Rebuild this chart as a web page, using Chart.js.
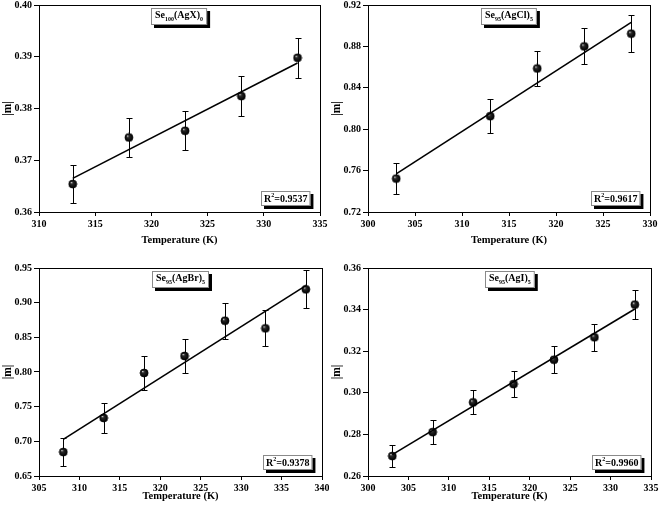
<!DOCTYPE html>
<html>
<head>
<meta charset="utf-8">
<script src="https://cdn.jsdelivr.net/npm/chart.js@4.4.1/dist/chart.umd.min.js"></script>
<style>
  html, body { margin: 0; padding: 0; background: #fff; }
  #wrap { position: relative; width: 659px; height: 512px; }
  canvas { position: absolute; }
</style>
</head>
<body>
<div id="wrap">
  <canvas id="c1" width="329" height="256" style="left:0;top:0"></canvas>
  <canvas id="c2" width="330" height="256" style="left:329px;top:0"></canvas>
  <canvas id="c3" width="329" height="256" style="left:0;top:256px"></canvas>
  <canvas id="c4" width="330" height="256" style="left:329px;top:256px"></canvas>
</div>
<script>
// --- data ---
// Se100(AgX)0
const tempAgX = [313, 318, 323, 328, 333];
const mAgX = [0.3654, 0.3744, 0.3757, 0.3824, 0.3898];
const errAgX = [0.0037, 0.0037, 0.0038, 0.0038, 0.0039];
const fitAgX = [0.3665, 0.3888];
const xTicksAgX = [310, 315, 320, 325, 330, 335];
const yTicksAgX = [0.36, 0.37, 0.38, 0.39, 0.40];

// Se95(AgCl)5
const tempAgCl = [303, 313, 318, 323, 328];
const mAgCl = [0.7523, 0.8126, 0.8587, 0.8800, 0.8923];
const errAgCl = [0.0152, 0.0163, 0.0173, 0.0173, 0.0179];
const fitAgCl = [0.7568, 0.9032];
const xTicksAgCl = [300, 305, 310, 315, 320, 325, 330];
const yTicksAgCl = [0.72, 0.76, 0.80, 0.84, 0.88, 0.92];

// Se95(AgBr)5
const tempAgBr = [308, 313, 318, 323, 328, 333, 338];
const mAgBr = [0.6846, 0.7337, 0.7986, 0.8231, 0.8740, 0.8630, 0.9192];
const errAgBr = [0.0205, 0.0222, 0.0240, 0.0250, 0.0260, 0.0258, 0.0274];
const fitAgBr = [0.7029, 0.9245];
const xTicksAgBr = [305, 310, 315, 320, 325, 330, 335, 340];
const yTicksAgBr = [0.65, 0.70, 0.75, 0.80, 0.85, 0.90, 0.95];

// Se95(AgI)5
const tempAgI = [303, 308, 313, 318, 323, 328, 333];
const mAgI = [0.2696, 0.2811, 0.2954, 0.3042, 0.3159, 0.3267, 0.3424];
const errAgI = [0.0054, 0.0057, 0.0058, 0.0061, 0.0064, 0.0066, 0.0069];
const fitAgI = [0.2703, 0.3403];
const xTicksAgI = [300, 305, 310, 315, 320, 325, 330, 335];
const yTicksAgI = [0.26, 0.28, 0.30, 0.32, 0.34, 0.36];

const SERIF = '"Liberation Serif", "Times New Roman", serif';

// little shaded ball used as marker
function makeBall(r) {
    const c = document.createElement('canvas');
    c.width = c.height = r * 2 + 2;
    const g = c.getContext('2d');
    const cx = r + 1;
    const grad = g.createRadialGradient(cx - r * 0.35, cx - r * 0.4, 0.2, cx, cx, r);
    grad.addColorStop(0, '#d8d8d8');
    grad.addColorStop(0.25, '#2a2a2a');
    grad.addColorStop(1, '#000');
    g.fillStyle = grad;
    g.beginPath();
    g.arc(cx, cx, r, 0, Math.PI * 2);
    g.fill();
    g.strokeStyle = '#000';
    g.lineWidth = 0.8;
    g.stroke();
    return c;
}
const ball = makeBall(4);

// draws text pieces with sub/superscripts, returns width
function richWidth(ctx, parts) {
    let w = 0;
    parts.forEach(p => {
        ctx.font = p.s ? 'bold 6px ' + SERIF : 'bold 10px ' + SERIF;
        w += ctx.measureText(p.t).width;
    });
    return w;
}
function drawRich(ctx, parts, x, y) {
    ctx.textBaseline = 'middle';
    ctx.textAlign = 'left';
    parts.forEach(p => {
        ctx.font = p.s ? 'bold 6px ' + SERIF : 'bold 10px ' + SERIF;
        const dy = p.s === 'sub' ? 3.5 : p.s === 'sup' ? -3.5 : 0;
        ctx.fillText(p.t, x, y + dy);
        x += ctx.measureText(p.t).width;
    });
}
function shadowBox(ctx, x, y, w, h) {
    ctx.fillStyle = '#000';
    ctx.fillRect(x + 3, y + 3, w, h);
    ctx.fillStyle = '#fff';
    ctx.fillRect(x, y, w, h);
    ctx.strokeStyle = '#8a8a8a';
    ctx.lineWidth = 1;
    ctx.strokeRect(x + 0.5, y + 0.5, w - 1, h - 1);
}

function makePanel(id, temps, ms, errs, fit, xTicks, yTicks, label, r2, area) {
    const canvas = document.getElementById(id);
    const W = canvas.width, H = canvas.height;

    const extras = {
        id: 'extras_' + id,
        beforeDatasetsDraw(chart) {
            // error bars
            const {ctx, scales: {x, y}} = chart;
            ctx.save();
            ctx.strokeStyle = '#000';
            ctx.lineWidth = 1;
            temps.forEach((t, i) => {
                const px = Math.round(x.getPixelForValue(t)) + 0.5;
                const top = Math.round(y.getPixelForValue(ms[i] + errs[i])) + 0.5;
                const bot = Math.round(y.getPixelForValue(ms[i] - errs[i])) + 0.5;
                ctx.beginPath();
                ctx.moveTo(px, top); ctx.lineTo(px, bot);
                ctx.moveTo(px - 3, top); ctx.lineTo(px + 3, top);
                ctx.moveTo(px - 3, bot); ctx.lineTo(px + 3, bot);
                ctx.stroke();
            });
            ctx.restore();
        },
        afterDraw(chart) {
            const {ctx, chartArea: a} = chart;
            ctx.save();
            // frame
            ctx.strokeStyle = '#000';
            ctx.lineWidth = 1;
            ctx.strokeRect(Math.round(a.left) + 0.5, Math.round(a.top) + 0.5,
                Math.round(a.right - a.left), Math.round(a.bottom - a.top));
            // composition label box
            let tw = richWidth(ctx, label);
            let bw = tw + 8, bh = 17;
            let bx = Math.round((a.left + a.right) / 2 - bw / 2), by = Math.round(a.top + 3);
            shadowBox(ctx, bx, by, bw, bh);
            ctx.fillStyle = '#000';
            drawRich(ctx, label, bx + 4, by + bh / 2 - 1);
            // R^2 box
            const rParts = [{t: 'R'}, {t: '2', s: 'sup'}, {t: '=' + r2}];
            tw = richWidth(ctx, rParts);
            bw = tw + 6; bh = 15;
            bx = Math.round(a.right - 10 - bw); by = Math.round(a.bottom - 6 - bh);
            shadowBox(ctx, bx, by, bw, bh);
            ctx.fillStyle = '#000';
            drawRich(ctx, rParts, bx + 3, by + bh / 2 + 0.5);
            ctx.restore();
        }
    };

    new Chart(canvas, {
        type: 'scatter',
        data: {
            datasets: [{
                type: 'line',
                data: [{x: temps[0], y: fit[0]}, {x: temps[temps.length - 1], y: fit[1]}],
                borderColor: '#000',
                borderWidth: 1.6,
                pointRadius: 0,
                fill: false
            }, {
                data: temps.map((t, i) => ({x: t, y: ms[i]})),
                pointStyle: ball,
                pointRadius: 4,
                borderColor: '#000',
                backgroundColor: '#000'
            }]
        },
        options: {
            responsive: false,
            animation: false,
            devicePixelRatio: 1,
            layout: { padding: { left: 0, top: area.top, right: W - area.right, bottom: 0 } },
            plugins: { legend: { display: false }, tooltip: { enabled: false } },
            scales: {
                x: {
                    type: 'linear',
                    min: xTicks[0],
                    max: xTicks[xTicks.length - 1],
                    afterBuildTicks: s => { s.ticks = xTicks.map(v => ({value: v})); },
                    afterFit: s => { s.height = H - area.bottom; s.paddingLeft = 0; s.paddingRight = 0; },
                    grid: { drawOnChartArea: false, drawTicks: true, tickLength: 4, color: '#000' },
                    border: { display: true, color: '#000', width: 1 },
                    ticks: {
                        color: '#000', padding: 2, maxRotation: 0,
                        font: { family: SERIF, size: 10, weight: 'bold' },
                        callback: v => String(v)
                    },
                    title: {
                        display: true, text: 'Temperature (K)', color: '#000',
                        font: { family: SERIF, size: 10.5, weight: 'bold' },
                        padding: { top: 0, bottom: 9 }
                    }
                },
                y: {
                    type: 'linear',
                    min: yTicks[0],
                    max: yTicks[yTicks.length - 1],
                    afterBuildTicks: s => { s.ticks = yTicks.map(v => ({value: v})); },
                    afterFit: s => { s.width = area.left; s.paddingTop = 0; s.paddingBottom = 0; },
                    grid: { drawOnChartArea: false, drawTicks: true, tickLength: 5, color: '#000' },
                    border: { display: true, color: '#000', width: 1 },
                    ticks: {
                        color: '#000', padding: 2,
                        font: { family: SERIF, size: 10, weight: 'bold' },
                        callback: v => v.toFixed(2)
                    },
                    title: {
                        display: true, text: '|m|', color: '#000',
                        font: { family: SERIF, size: 11.5, weight: 'bold' },
                        padding: { top: 1, bottom: 0 }
                    }
                }
            }
        },
        plugins: [extras]
    });
}

makePanel('c1', tempAgX, mAgX, errAgX, fitAgX, xTicksAgX, yTicksAgX,
    [{t: 'Se'}, {t: '100', s: 'sub'}, {t: '(AgX)'}, {t: '0', s: 'sub'}], '0.9537',
    {left: 39, right: 320, top: 5, bottom: 212});
makePanel('c2', tempAgCl, mAgCl, errAgCl, fitAgCl, xTicksAgCl, yTicksAgCl,
    [{t: 'Se'}, {t: '95', s: 'sub'}, {t: '(AgCl)'}, {t: '5', s: 'sub'}], '0.9617',
    {left: 39, right: 321, top: 5, bottom: 212});
makePanel('c3', tempAgBr, mAgBr, errAgBr, fitAgBr, xTicksAgBr, yTicksAgBr,
    [{t: 'Se'}, {t: '95', s: 'sub'}, {t: '(AgBr)'}, {t: '5', s: 'sub'}], '0.9378',
    {left: 39, right: 322, top: 12, bottom: 220});
makePanel('c4', tempAgI, mAgI, errAgI, fitAgI, xTicksAgI, yTicksAgI,
    [{t: 'Se'}, {t: '95', s: 'sub'}, {t: '(AgI)'}, {t: '5', s: 'sub'}], '0.9960',
    {left: 39, right: 322, top: 12, bottom: 220});
</script>
</body>
</html>
